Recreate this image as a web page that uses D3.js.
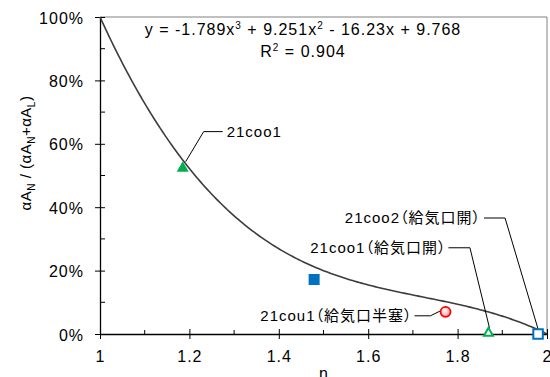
<!DOCTYPE html>
<html>
<head>
<meta charset="utf-8">
<script src="https://cdn.jsdelivr.net/npm/d3@7"></script>
<style>
  html, body { margin: 0; padding: 0; background: #fff; }
  svg { display: block; }
  text { font-family: "Liberation Sans", Arial, "Noto Sans CJK JP", sans-serif; fill: #000; }
  text.case-label { font-feature-settings: "palt"; }
</style>
</head>
<body>
<svg id="chart" width="550" height="377"></svg>
<script>
// Measured cases: exponent n and opening share αA_N/(αA_N+αA_L)
const caseNames  = ["21coo1", "", "21cou1（給気口半塞）", "21coo1（給気口開）", "21coo2（給気口開）"];
const caseN      = [1.185, 1.479, 1.773, 1.869, 1.980];
const caseShare  = [0.528, 0.172, 0.070, 0.007, 0.000];
const caseMarker = ["triangleFilled", "squareFilled", "circle", "triangleOpen", "squareOpen"];

// Cubic trendline y = a x^3 + b x^2 + c x + d
const trendCoef = [-1.789, 9.251, -16.23, 9.768];
const trendR2 = "0.904";

const xTicks = [1, 1.2, 1.4, 1.6, 1.8, 2];
const xTickLabels = ["1", "1.2", "1.4", "1.6", "1.8", "2"];
const yTicks = [0, 0.2, 0.4, 0.6, 0.8, 1.0];
const yTickLabels = ["0%", "20%", "40%", "60%", "80%", "100%"];

const svg = d3.select("#chart");
const plotL = 100, plotR = 547, plotT = 17, plotB = 334;

const x = d3.scaleLinear().domain([1, 2]).range([plotL, plotR]);
const y = d3.scaleLinear().domain([0, 1]).range([plotB, plotT]);

const GREEN = "#00b050", BLUE = "#0070c0", RED = "#ff0000";

// Plot-area frame (top and right sides)
svg.append("path")
  .attr("d", `M${plotL},${plotT}H${plotR}V${plotB}`)
  .attr("fill", "none").attr("stroke", "#808080").attr("stroke-width", 1);

// Minor ticks (inside)
const minorX = d3.range(1.1, 2, 0.2);
svg.append("g").selectAll("line").data(minorX).join("line")
  .attr("x1", d => x(d)).attr("x2", d => x(d))
  .attr("y1", plotB - 4).attr("y2", plotB)
  .attr("stroke", "#000");
const minorY = d3.range(0.1, 1, 0.2);
svg.append("g").selectAll("line").data(minorY).join("line")
  .attr("y1", d => y(d)).attr("y2", d => y(d))
  .attr("x1", plotL).attr("x2", plotL + 5)
  .attr("stroke", "#000");

// X axis
const xAxis = d3.axisBottom(x).tickValues(xTicks)
  .tickFormat((d, i) => xTickLabels[i]).tickSizeInner(5).tickSizeOuter(0).tickPadding(12);
const gx = svg.append("g").attr("transform", `translate(0,${plotB})`).call(xAxis);
gx.attr("font-family", null).attr("font-size", null);
gx.select(".domain").attr("stroke", "#000").attr("stroke-width", 1.3);
gx.selectAll(".tick line").attr("y1", -5).attr("y2", 5).attr("stroke", "#000");
gx.selectAll(".tick text").attr("font-size", 16).attr("letter-spacing", "1px")
  .attr("fill", "#000").attr("dy", null).attr("y", 28);

// Y axis
const yAxis = d3.axisLeft(y).tickValues(yTicks)
  .tickFormat((d, i) => yTickLabels[i]).tickSizeInner(5).tickSizeOuter(0).tickPadding(12);
const gy = svg.append("g").attr("transform", `translate(${plotL},0)`).call(yAxis);
gy.attr("font-family", null).attr("font-size", null);
gy.select(".domain").attr("stroke", "#000").attr("stroke-width", 1.3);
gy.selectAll(".tick line").attr("x1", -5).attr("x2", 5).attr("stroke", "#000");
gy.selectAll(".tick text").attr("font-size", 16).attr("letter-spacing", "1px")
  .attr("fill", "#000").attr("dy", null).attr("y", 6).attr("x", -16);

// Axis titles
svg.append("text").attr("x", (plotL + plotR) / 2).attr("y", 379)
  .attr("text-anchor", "middle").attr("font-size", 16).text("n");

const yTitle = svg.append("text")
  .attr("transform", "translate(31,153) rotate(-90)")
  .attr("text-anchor", "middle").attr("font-size", 15).attr("letter-spacing", "0.5px");
yTitle.append("tspan").text("αA");
yTitle.append("tspan").attr("font-size", 10).attr("dy", 4).text("N");
yTitle.append("tspan").attr("dy", -4).text(" / (αA");
yTitle.append("tspan").attr("font-size", 10).attr("dy", 4).text("N");
yTitle.append("tspan").attr("dy", -4).text("+αA");
yTitle.append("tspan").attr("font-size", 10).attr("dy", 4).text("L");
yTitle.append("tspan").attr("dy", -4).text(")");

// Trendline
const poly = n => trendCoef[0] * n ** 3 + trendCoef[1] * n ** 2 + trendCoef[2] * n + trendCoef[3];
const curveN = d3.range(0, 201).map(i => 1 + i / 200);
svg.append("path")
  .datum(curveN)
  .attr("d", d3.line().x(d => x(d)).y(d => y(poly(d))))
  .attr("fill", "none").attr("stroke", "#3c3c3c").attr("stroke-width", 1.6);

// Trendline equation
const eq = svg.append("text").attr("x", 303).attr("y", 35)
  .attr("text-anchor", "middle").attr("font-size", 16).attr("letter-spacing", "1px");
const sup = (t, s) => { t.append("tspan").attr("font-size", 10).attr("dy", -6).text(s); };
const fmt = v => Math.abs(v).toString();
eq.append("tspan").text(`y = ${trendCoef[0] < 0 ? "-" : ""}${fmt(trendCoef[0])}x`);
sup(eq, "3");
eq.append("tspan").attr("dy", 6).text(` ${trendCoef[1] < 0 ? "-" : "+"} ${fmt(trendCoef[1])}x`);
sup(eq, "2");
eq.append("tspan").attr("dy", 6)
  .text(` ${trendCoef[2] < 0 ? "-" : "+"} ${fmt(trendCoef[2])}x ${trendCoef[3] < 0 ? "-" : "+"} ${fmt(trendCoef[3])}`);

const r2 = svg.append("text").attr("x", 303).attr("y", 57)
  .attr("text-anchor", "middle").attr("font-size", 16).attr("letter-spacing", "1px");
r2.append("tspan").text("R");
sup(r2, "2");
r2.append("tspan").attr("dy", 6).text(` = ${trendR2}`);

// Shaded fill for the circle marker
const defs = svg.append("defs");
const grad = defs.append("radialGradient").attr("id", "circleFill")
  .attr("cx", "40%").attr("cy", "35%").attr("r", "65%");
grad.append("stop").attr("offset", "0%").attr("stop-color", "#ffffff");
grad.append("stop").attr("offset", "100%").attr("stop-color", "#ff9a9a");

// Leader lines and labels (offsets relative to each marker)
const labelLayout = [
  { tip: [3, -5], elbow: [21, -35], end: [40, -35], text: [44, -35], anchor: "start" },
  null,
  { tip: [-5, -1], elbow: [-15, 4], end: [-31, 4], text: [-33, 4], anchor: "end" },
  { tip: [1, -4], elbow: [-18.5, -84], end: [-40, -84], text: [-42, -84], anchor: "end" },
  { tip: [0, -5], elbow: [-33, -116], end: [-54, -116], text: [-57, -116], anchor: "end" }
];

const cases = caseN.map((n, i) => ({ n, v: caseShare[i], name: caseNames[i], marker: caseMarker[i], lay: labelLayout[i] }));

cases.filter(d => d.lay).forEach(d => {
  const px = x(d.n), py = y(d.v), L = d.lay;
  svg.append("polyline")
    .attr("points", [[px + L.end[0], py + L.end[1]], [px + L.elbow[0], py + L.elbow[1]], [px + L.tip[0], py + L.tip[1]]].join(" "))
    .attr("fill", "none").attr("stroke", "#000").attr("stroke-width", 1);
  svg.append("text").attr("class", "case-label")
    .attr("x", px + L.text[0]).attr("y", py + L.text[1] + 5)
    .attr("text-anchor", d.lay.anchor).attr("font-size", 15).attr("letter-spacing", "1px")
    .text(d.name);
});

// Markers
const tri = (w, h) => `M0,${-h / 2}L${w / 2},${h / 2}L${-w / 2},${h / 2}Z`;
const sq = s => `M${-s / 2},${-s / 2}h${s}v${s}h${-s}Z`;
const g = svg.append("g");
cases.forEach(d => {
  const t = `translate(${x(d.n)},${y(d.v)})`;
  if (d.marker === "triangleFilled")
    g.append("path").attr("d", tri(12, 10.5)).attr("transform", t).attr("fill", GREEN);
  else if (d.marker === "squareFilled")
    g.append("path").attr("d", sq(11)).attr("transform", t).attr("fill", BLUE);
  else if (d.marker === "circle")
    g.append("circle").attr("r", 5).attr("transform", t)
      .attr("fill", "url(#circleFill)").attr("stroke", RED).attr("stroke-width", 1.8);
  else if (d.marker === "triangleOpen")
    g.append("path").attr("d", tri(9, 8)).attr("transform", t)
      .attr("fill", "#fff").attr("stroke", GREEN).attr("stroke-width", 2);
  else if (d.marker === "squareOpen")
    g.append("path").attr("d", sq(9.5)).attr("transform", t)
      .attr("fill", "#fff").attr("stroke", BLUE).attr("stroke-width", 2);
});
</script>
</body>
</html>
